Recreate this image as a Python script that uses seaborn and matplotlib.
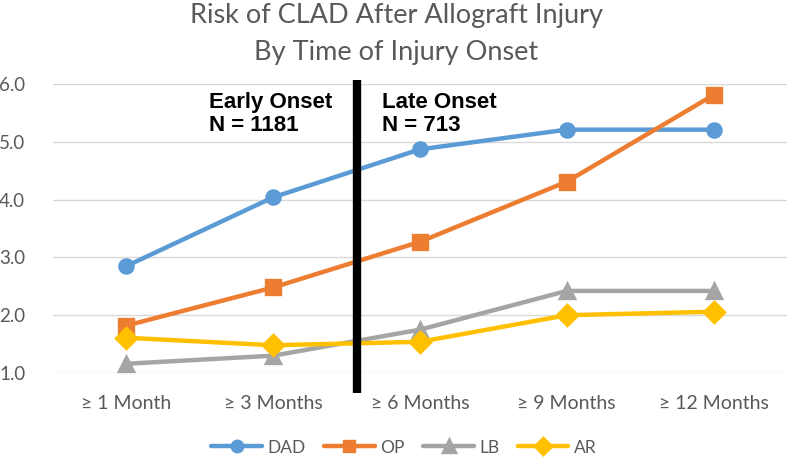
import pandas as pd
import seaborn as sns
import matplotlib.pyplot as plt

# Data
periods = ["≥ 1 Month", "≥ 3 Months", "≥ 6 Months", "≥ 9 Months", "≥ 12 Months"]
dad = [2.85, 4.04, 4.87, 5.21, 5.21]
op = [1.82, 2.48, 3.27, 4.31, 5.81]
lb = [1.16, 1.30, 1.75, 2.42, 2.42]
ar = [1.61, 1.48, 1.54, 2.00, 2.06]
series = ["DAD", "OP", "LB", "AR"]
colors = ["#5B9BD5", "#ED7D31", "#A5A5A5", "#FFC000"]
markers = ["o", "s", "^", "D"]
marker_sizes = [9.5, 9.5, 10, 10]

df = pd.DataFrame({
    "period": periods * 4,
    "risk": dad + op + lb + ar,
    "group": [s for s in series for _ in periods],
})

sns.set_theme(style="white")
plt.rcParams["font.family"] = ["Lato", "DejaVu Sans"]

fig = plt.figure(figsize=(7.92, 4.57), dpi=100)
ax = fig.add_axes([53 / 792, 1 - 373 / 457, 734 / 792, 289 / 457])

for name, col, mk, ms in zip(series, colors, markers, marker_sizes):
    sub = df[df["group"] == name]
    sns.pointplot(data=sub, x="period", y="risk", order=periods, color=col,
                  marker=mk, markersize=ms, linewidth=3.2, ax=ax, label=name,
                  errorbar=None)

ax.set_xlim(-0.5, 4.5)
ax.set_ylim(1, 6)
ax.set_yticks([1, 2, 3, 4, 5, 6])
ax.set_yticklabels([f"{v:.1f}" for v in [1, 2, 3, 4, 5, 6]])
ax.grid(axis="y", color="#D9D9D9", linewidth=1)
ax.set_axisbelow(True)
for s in ax.spines.values():
    s.set_visible(False)
ax.tick_params(axis="both", length=0, labelcolor="#595959")
ax.tick_params(axis="x", pad=16, labelsize=14)
ax.tick_params(axis="y", pad=20, labelsize=13.5)
ax.set_xlabel("")
ax.set_ylabel("")

# divider between early and late onset
ax.axvline(1.57, ymin=-0.07, ymax=1.014, color="black", linewidth=6,
           clip_on=False, solid_capstyle="butt")

bold = dict(fontsize=16, fontweight="bold", family=["Liberation Sans", "DejaVu Sans"],
            color="black", va="top", ha="left", linespacing=1.15)
ax.text(0.213, 0.972, "Early Onset\nN = 1181", transform=ax.transAxes, **bold)
ax.text(0.448, 0.972, "Late Onset\nN = 713", transform=ax.transAxes, **bold)

fig.suptitle("Risk of CLAD After Allograft Injury\nBy Time of Injury Onset",
             y=0.993, fontsize=19.5, color="#595959", linespacing=1.6)

handles, labels = ax.get_legend_handles_labels()
leg = ax.legend(handles, labels, loc="center", bbox_to_anchor=(0.478, -0.258),
                ncol=4, frameon=False, handlelength=2.9, columnspacing=1.1,
                handletextpad=0.3, fontsize=12.5, markerscale=0.8)
for t in leg.get_texts():
    t.set_color("#595959")

plt.savefig("out.png", dpi=100)
